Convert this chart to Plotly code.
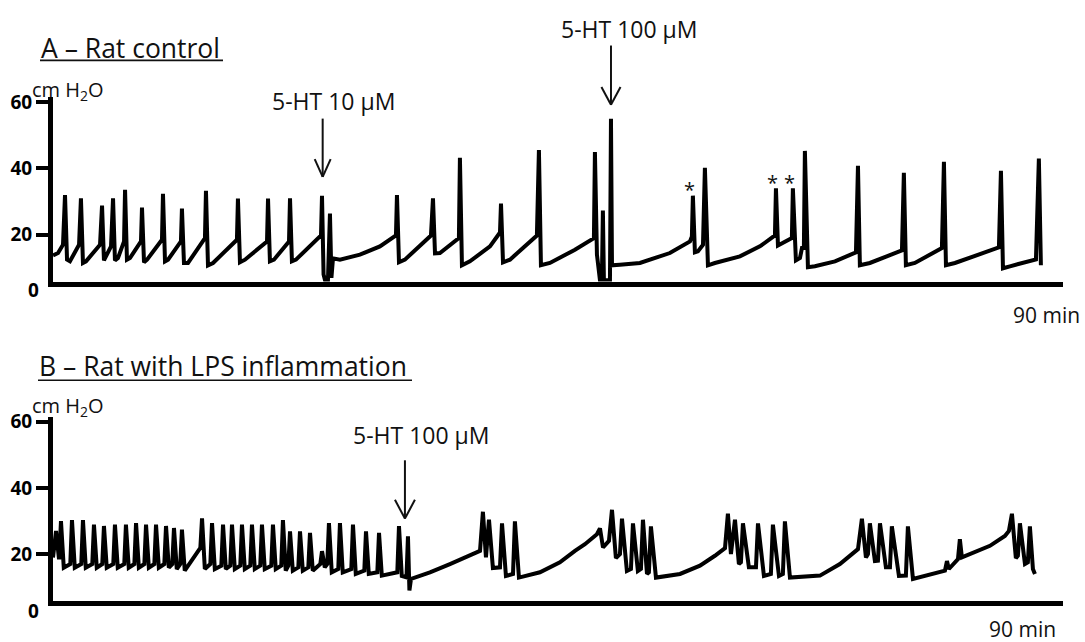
import plotly.graph_objects as go

# ---------------- DATA ----------------
# Panel A - control rat: bladder pressure (cm H2O) vs time (min)
A_base_t = [0.00, 0.45, 0.89, 1.07, 1.25, 1.51, 2.32, 2.49, 2.67, 2.94, 4.19, 4.37, 4.54, 5.17, 5.35,
            5.52, 5.79, 6.33, 6.42, 6.59, 6.86, 7.84, 7.93, 8.11, 8.38, 9.71, 9.80, 9.98, 10.25, 11.40,
            11.49, 11.67, 12.03, 13.54, 13.63, 13.81, 14.26, 16.39, 16.48, 16.66, 17.11, 19.07, 19.16,
            19.33, 19.69, 21.03, 21.12, 21.29, 21.65, 23.88, 23.97]
A_base_p = [13.8, 14.5, 17, 32, 12.5, 12, 17, 31, 11.5, 12, 17, 28.8, 12.3, 16.5, 31,
            12.3, 13, 18, 33.6, 12.5, 13, 18, 28.2, 11.7, 12.5, 18.5, 32.4, 12, 12.5, 18,
            27.9, 11.5, 11.5, 19, 33.3, 10.8, 11.5, 18.5, 30.9, 11.7, 12.5, 18, 30.9,
            12, 12.5, 18, 31, 12, 12.5, 19.8, 31.8]

A_10_t = [24.11, 24.24, 24.50, 24.68, 24.81, 24.95, 25.57, 27.35, 29.13, 30.56, 30.65, 30.83, 31.36,
          33.68, 33.86, 34.04, 34.48, 36.17, 36.26, 36.44, 37.15, 38.94, 39.56, 39.83, 39.92, 40.10,
          40.72, 43.12, 43.30, 43.48, 44.28, 46.51, 48.20, 48.29, 48.47, 48.74, 48.91, 49.00, 49.09, 49.63]
A_10_p = [8, 6.3, 6.3, 26.4, 7, 12.9, 12.5, 14, 16.5, 19.8, 32, 11.7, 12.5,
          19.8, 31, 14.4, 14.5, 19, 43.2, 10.8, 12, 16.5, 19.5, 20.7, 29.4, 11.7,
          12.5, 19.8, 45.6, 10.8, 11.5, 15.5, 19, 45, 14, 6.3, 6.3, 27.3, 6.3, 6.3]

A_100_t = [49.72, 49.81, 50.52, 52.30, 54.97, 56.76, 56.93, 57.02, 57.20, 57.47, 57.92, 58.09, 58.36,
           58.98, 61.21, 62.99, 64.33, 64.42, 64.60, 65.22, 65.84, 65.93, 66.20, 66.56, 66.74, 66.91,
           67.00, 67.27, 67.89, 69.68, 71.55, 71.73, 71.90, 72.79, 75.65, 75.82, 76.00, 76.80, 79.21,
           79.39, 79.57, 80.37, 84.29, 84.47, 84.65, 85.27, 87.59, 87.85, 88.03]
A_100_p = [55, 10.8, 11, 11.5, 14.5, 18, 19.5, 31.8, 14.7, 15, 17, 40.2, 10.8,
           11.5, 13.5, 16.5, 19.8, 34, 16.8, 18, 19, 34, 12.3, 13, 16, 16,
           45.3, 10.2, 10.5, 12, 14.7, 40.8, 10.8, 11.5, 15.3, 38.7, 10.8, 11.5, 16,
           42, 10.8, 11.5, 16.2, 39.3, 9.9, 10.5, 12.6, 43, 10.8]

A_drug_t = [24.03, 49.72]
A_drug_label = ["5-HT 10 µM", "5-HT 100 µM"]
A_star_t = [57.02, 64.42, 65.93]       # voids marked with *
A_star_p = [31.8, 34.0, 34.0]

# Panel B - rat with LPS inflammation
B_start_t = [0.0]
B_start_p = [19]
B_spike_t = [0.27, 0.71, 1.69, 2.67, 3.65, 4.54, 5.52, 6.50, 7.40, 8.29, 9.18, 10.07, 10.78, 11.49,
             13.28, 14.17, 15.15, 15.95, 16.84, 17.73, 18.62, 19.60, 20.49, 21.12, 22.01, 22.90,
             23.97, 24.59, 25.57, 26.73, 27.89, 29.05, 30.83]
B_spike_peak = [27, 30, 30.3, 30.3, 28.9, 28.5, 28.9, 28.9, 29.4, 28.9, 28.9, 28.5, 27.9, 27.4,
                30.8, 29.4, 28.9, 28.9, 28.9, 28.9, 28.9, 28.9, 30.3, 26.9, 26.9, 26.4,
                20.9, 29.4, 29.4, 28.9, 26.9, 26.4, 28.5]
B_spike_pre = [22, 19, 17, 17, 17, 17, 17, 17, 17, 17, 17, 17, 17, 17,
               21.9, 17, 16.5, 16.5, 16.5, 16.5, 16.5, 16.5, 16.5, 16.5, 16, 16,
               17, 17, 15.5, 15.5, 15, 14.5, 14.5]
B_spike_trough = [19, 15.9, 15.9, 15.9, 15.9, 15.9, 15.9, 15.9, 15.9, 15.9, 15.9, 15.9, 15.5, 15,
                  15.5, 15.5, 15.5, 15.5, 15.5, 15.5, 15.5, 15.5, 15, 15, 15, 15,
                  16, 14.5, 14.5, 14, 14, 13.5, 13.4]

B_post_t = [31.50, 31.63, 31.76, 31.90, 33.59, 35.37, 37.15, 38.05, 38.31, 38.58,
            38.85, 39.20, 39.83, 40.01, 40.36, 40.99, 41.16, 41.52, 43.39, 45.17,
            46.51, 47.40, 48.47, 48.74, 49.01, 49.54, 49.81, 50.16, 50.52, 50.70,
            51.14, 51.50, 51.68, 52.12, 52.39, 52.57, 52.93, 53.10, 53.28, 53.73,
            55.87, 57.65, 58.98, 59.88, 60.14, 60.41, 60.77, 61.12, 61.30, 61.48,
            62.01, 62.64, 62.82, 63.35, 63.97, 64.15, 64.69, 65.04, 65.22, 65.67,
            68.34, 70.12, 71.73, 72.08, 72.44, 72.62, 72.79, 73.24, 73.51, 73.69,
            74.22, 74.58, 74.75, 75.38, 76.00, 76.18, 76.63, 79.48, 79.66, 79.83,
            80.64, 80.81, 80.99, 82.15, 83.49, 84.82, 85.18, 85.45, 85.80, 85.98,
            86.16, 86.61, 86.87, 87.05, 87.32, 87.50]
B_post_p = [13, 25.4, 9, 12.5, 14.5, 17, 19.5, 21, 32.8, 19,
            30.4, 15.8, 16, 29.3, 13.4, 14, 29.9, 12.9, 14.5, 17.5,
            21, 23, 26, 27.8, 22, 24, 33.4, 18.8, 20, 30.7,
            14.9, 15.5, 29.3, 14.9, 15.5, 30.4, 14, 14.5, 28.4, 12.9,
            14, 16.5, 19.5, 21.8, 32.2, 20, 30.4, 17, 17.5, 29.3,
            16, 16, 29.3, 13.4, 14, 28.9, 13.4, 14, 29.9, 12.9,
            13.5, 17, 21.5, 30.7, 19, 20, 29.3, 17.9, 18, 29.3,
            16, 16, 28.4, 13.4, 13.5, 28.4, 12.5, 15, 17.9, 15.5,
            18.5, 24.5, 19, 20.5, 22.5, 25.5, 27, 32.2, 18.8, 19.5,
            29.3, 17, 17.5, 28.4, 15.5, 14]

B_drug_t = [31.36]
B_drug_label = ["5-HT 100 µM"]

Y_TICKS = [20, 40, 60]
X_END_LABEL = "90 min"

# ---------------- BUILD ----------------
W, H = 1085, 642
FONT = "Open Sans"
INK = "#111111"


def px(X):
    return X / W


def py(Y):
    return 1 - Y / H


def spike_vertices(t, pre, peak, trough, rise=0.15, fall=0.25):
    xs, ys = [], []
    for ti, p0, pk, tr in zip(t, pre, peak, trough):
        xs += [ti - rise, ti, ti + fall]
        ys += [p0, pk, tr]
    return xs, ys


A_t = A_base_t + A_10_t + A_100_t
A_p = A_base_p + A_10_p + A_100_p

bx, by = spike_vertices(B_spike_t, B_spike_pre, B_spike_peak, B_spike_trough)
B_t = B_start_t + bx + B_post_t
B_p = B_start_p + by + B_post_p

fig = go.Figure()
fig.add_trace(go.Scatter(x=A_t, y=A_p, mode="lines", xaxis="x", yaxis="y",
                         line=dict(color="black", width=4), showlegend=False, hoverinfo="skip"))
fig.add_trace(go.Scatter(x=B_t, y=B_p, mode="lines", xaxis="x2", yaxis="y2",
                         line=dict(color="black", width=4), showlegend=False, hoverinfo="skip"))

xcommon = dict(domain=[px(53), px(1063)], range=[0, 90], showline=True, linewidth=5,
               linecolor="black", showticklabels=False, ticks="", showgrid=False,
               zeroline=False, fixedrange=True)
ycommon = dict(tickvals=Y_TICKS, ticks="outside", ticklen=12, tickwidth=4, tickcolor="black",
               showline=True, linewidth=5, linecolor="black", showgrid=False, zeroline=False,
               fixedrange=True,
               tickfont=dict(family=FONT, size=19, color="black", weight="bold"))

fig.update_layout(
    width=W, height=H, autosize=False,
    margin=dict(l=0, r=0, t=0, b=0),
    paper_bgcolor="white", plot_bgcolor="rgba(0,0,0,0)",
    xaxis=dict(**xcommon, anchor="y"),
    yaxis=dict(**ycommon, anchor="x", domain=[py(277), py(90)], range=[5.9, 61.6]),
    xaxis2=dict(**xcommon, anchor="y2"),
    yaxis2=dict(**ycommon, anchor="x2", domain=[py(600), py(414)], range=[5.97, 61.5]),
)

ann = []
shapes = []


def text(x, y, s, size, xanchor="center", xref="paper", yref="paper", bold=False, **kw):
    f = dict(family=FONT, size=size, color=INK)
    if bold:
        f.update(weight="bold", color="black")
    ann.append(dict(x=x, y=y, xref=xref, yref=yref, text=s, showarrow=False,
                    xanchor=xanchor, yanchor="middle", font=f, **kw))


# titles with underline
text(px(39), py(40), "A – Rat control", 26.5, xanchor="left")
shapes.append(dict(type="line", xref="paper", yref="paper", x0=px(40), x1=px(223),
                   y0=py(53), y1=py(53), line=dict(color=INK, width=1.6)))
text(px(37), py(363), "B – Rat with LPS inflammation", 26.5, xanchor="left")
shapes.append(dict(type="line", xref="paper", yref="paper", x0=px(38), x1=px(412),
                   y0=py(377), y1=py(377), line=dict(color=INK, width=1.6)))

# unit labels
text(px(30), py(84), "cm H<sub>2</sub>O", 20, xanchor="left")
text(px(30), py(404), "cm H<sub>2</sub>O", 20, xanchor="left")

# zero labels
text(px(33), py(286), "0", 19, bold=True)
text(px(33), py(611), "0", 19, bold=True)

# end-of-time labels
text(px(1082), py(311), X_END_LABEL, 21, xanchor="right")
text(px(1058), py(629), X_END_LABEL, 21, xanchor="right")


def drug_arrow(t, xref, y_top, y_tip, half, head):
    shapes.append(dict(type="line", xref=xref, yref="paper", x0=t, x1=t,
                       y0=py(y_top), y1=py(y_tip), line=dict(color=INK, width=2)))
    for s in (-1, 1):
        shapes.append(dict(type="line", xref=xref, yref="paper", x0=t + s * half, x1=t,
                           y0=py(y_tip - head), y1=py(y_tip), line=dict(color=INK, width=2)))


# Panel A drug arrows + labels
drug_arrow(A_drug_t[0], "x", 112, 171, 0.71, 18)
text(A_drug_t[0], py(94), A_drug_label[0], 23, xref="x", xshift=11)
drug_arrow(A_drug_t[1], "x", 38, 98, 0.85, 18)
text(A_drug_t[1], py(21), A_drug_label[1], 23, xref="x", xshift=18)
# Panel B drug arrow + label
drug_arrow(B_drug_t[0], "x2", 458, 517, 0.89, 19)
text(B_drug_t[0], py(432), B_drug_label[0], 23, xref="x2", xshift=16)

# asterisks
for t, p in zip(A_star_t, A_star_p):
    ann.append(dict(x=t, y=p, xref="x", yref="y", text="*", showarrow=False,
                    xshift=-3, yshift=6, font=dict(family=FONT, size=20, color=INK)))

fig.update_layout(annotations=ann, shapes=shapes)

fig.write_html(
    "out.html", config={"displayModeBar": False},
    post_script=("document.body.style.margin='0px';"
                 "var g=document.querySelector('.plotly-graph-div');"
                 "g.style.position='absolute';g.style.left='0px';g.style.top='0px';"),
)
